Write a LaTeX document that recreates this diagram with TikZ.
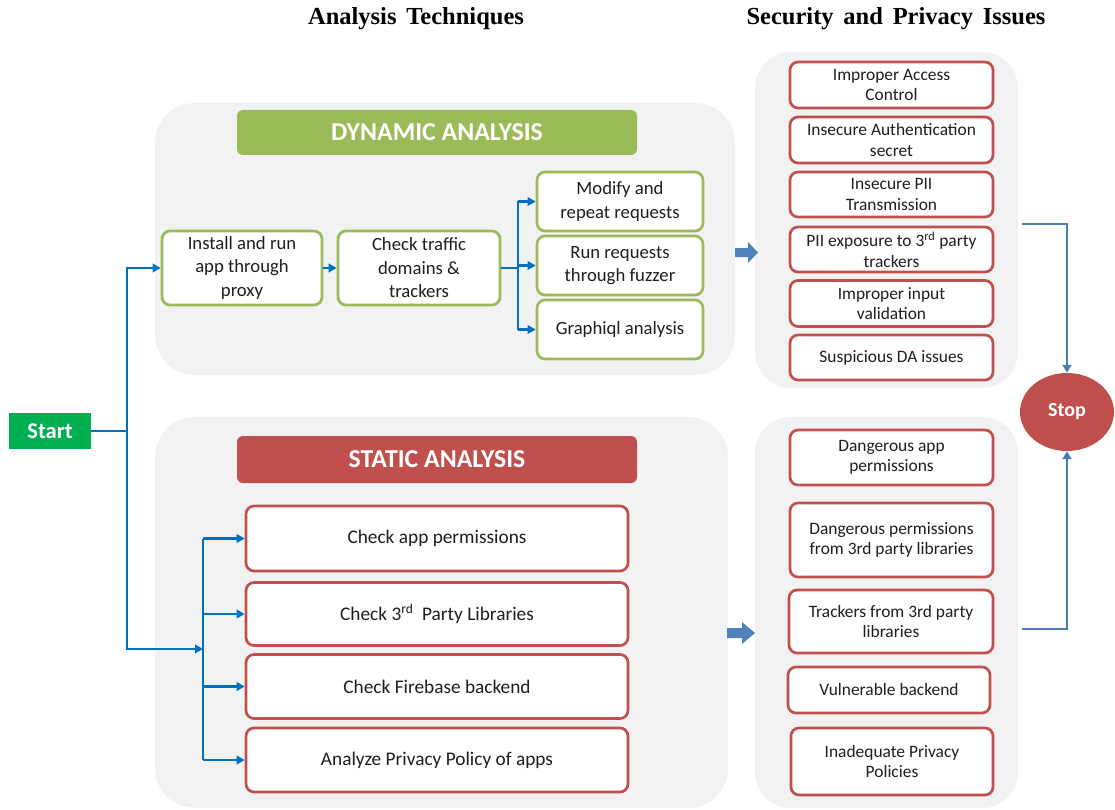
\documentclass[tikz,border=0pt]{standalone}
\usepackage{fontspec}
\setmainfont{Carlito}
\newfontfamily\titlefont[WordSpace=1.6]{Liberation Serif}
\usetikzlibrary{arrows.meta,shapes.geometric,calc}
\definecolor{panelgray}{HTML}{F2F2F2}
\definecolor{dagreen}{HTML}{9BBB59}
\definecolor{sared}{HTML}{C0504D}
\definecolor{startgreen}{HTML}{00B050}
\definecolor{connblue}{HTML}{0070C0}
\definecolor{stopblue}{HTML}{4A7EBB}
\definecolor{bigblue}{HTML}{4F81BD}
\definecolor{txt}{HTML}{1E1E1E}
\begin{document}
\begin{tikzpicture}[x=1pt,y=-1pt,
  panel/.style={fill=panelgray, draw=none, rounded corners=40pt, inner sep=0pt},
  header/.style={rounded corners=6pt, inner sep=0pt, text=white, font=\fontsize{25.8}{30}\selectfont\bfseries},
  dabox/.style={draw=dagreen, line width=2.7pt, fill=white, rounded corners=8pt, align=center, inner sep=0pt, text=txt, font=\fontsize{18.7}{23.5}\selectfont},
  sabox/.style={draw=sared, line width=2.7pt, fill=white, rounded corners=8pt, align=center, inner sep=0pt, text=txt, font=\fontsize{19.3}{23}\selectfont},
  issue/.style={draw=sared, line width=2.7pt, fill=white, rounded corners=8pt, align=center, inner sep=0pt, text=txt, font=\fontsize{17.4}{20.5}\selectfont},
  line/.style={draw=connblue, line width=2.5pt},
  arr/.style={line, -{Triangle[length=8pt,width=8.5pt]}},
  arrb/.style={draw=stopblue, line width=2.6pt, -{Triangle[length=8pt,width=9pt]}},
  title/.style={font=\titlefont\fontsize{24.5}{28}\selectfont\bfseries, text=black}
]
\useasboundingbox (0,0) rectangle (1115,810);

% titles
\node[title] (t1) at (416,19) {Analysis Techniques};
\node[title] (t2) at (896,19) {Security and Privacy Issues};

% panels
\node[panel, minimum width=580pt, minimum height=272pt] (dynpanel) at (445,239) {};
\node[panel, minimum width=573pt, minimum height=391pt] (statpanel) at (441.5,612.5) {};
\node[panel, rounded corners=36pt, minimum width=263pt, minimum height=336pt] (issuetop) at (886.5,220) {};
\node[panel, rounded corners=36pt, minimum width=263pt, minimum height=391pt] (issuebot) at (886.5,612.5) {};

% headers
\node[header, fill=dagreen, minimum width=400pt, minimum height=45pt] (dynhead) at (437,132.5) {DYNAMIC ANALYSIS};
\node[header, fill=sared, minimum width=400pt, minimum height=47pt] (stathead) at (437,459.5) {STATIC ANALYSIS};

% dynamic boxes
\node[dabox, minimum width=160pt, minimum height=74pt] (install) at (242,268) {Install and run\\app through\\proxy};
\node[dabox, minimum width=162pt, minimum height=74pt] (traffic) at (419,268) {Check traffic\\domains \&\\trackers};
\node[dabox, minimum width=166pt, minimum height=59pt] (modify) at (620,201.5) {Modify and\\repeat requests};
\node[dabox, minimum width=166pt, minimum height=59pt] (fuzz) at (620,265.5) {Run requests\\through fuzzer};
\node[dabox, minimum width=166pt, minimum height=59pt] (graphiql) at (620,329.5) {Graphiql analysis};

% static boxes
\node[sabox, minimum width=382pt, minimum height=65pt] (s1) at (437,538.5) {Check app permissions};
\node[sabox, minimum width=382pt, minimum height=63pt] (s2) at (437,614) {Check 3\textsuperscript{rd}\ \ Party Libraries};
\node[sabox, minimum width=382pt, minimum height=64pt] (s3) at (437,686.5) {Check Firebase backend};
\node[sabox, minimum width=382pt, minimum height=64pt] (s4) at (437,760) {Analyze Privacy Policy of apps};

% issue boxes (dynamic)
\node[issue, minimum width=203pt, minimum height=46pt] (i1) at (891.5,85) {Improper Access\\Control};
\node[issue, minimum width=203pt, minimum height=46pt] (i2) at (891.5,140) {Insecure Authentication\\secret};
\node[issue, minimum width=203pt, minimum height=45pt] (i3) at (891.5,194.5) {Insecure PII\\Transmission};
\node[issue, minimum width=203pt, minimum height=45pt] (i4) at (891.5,249.5) {PII exposure to 3\textsuperscript{rd} party\\trackers};
\node[issue, minimum width=203pt, minimum height=46pt] (i5) at (891.5,303.5) {Improper input\\validation};
\node[issue, minimum width=203pt, minimum height=45pt] (i6) at (891.5,357.5) {Suspicious DA issues};

% issue boxes (static)
\node[issue, minimum width=203pt, minimum height=55pt] (b1) at (891.5,457.5) {Dangerous app\\permissions};
\node[issue, minimum width=203pt, minimum height=74pt] (b2) at (891.5,540) {Dangerous permissions\\from 3rd party libraries};
\node[issue, minimum width=204pt, minimum height=63pt] (b3) at (891,621.5) {Trackers from 3rd party\\libraries};
\node[issue, minimum width=202pt, minimum height=46pt] (b4) at (889,690) {Vulnerable backend};
\node[issue, minimum width=202pt, minimum height=67pt] (b5) at (892,761.5) {Inadequate Privacy\\Policies};

% start / stop
\node[fill=startgreen, minimum width=82pt, minimum height=36pt, inner sep=0pt, text=white, font=\fontsize{22.5}{25}\selectfont\bfseries] (start) at (50,431) {Start};
\node[ellipse, fill=sared, minimum width=94pt, minimum height=78pt, inner sep=0pt, text=white, font=\fontsize{20}{24}\selectfont\bfseries] (stop) at (1067,412) {Stop};

% left connectors
\coordinate (spine) at (127,431);
\coordinate (sj) at (203,649);
\draw[line] (start.east) -- (spine);
\draw[arr] (spine) |- (install.west);
\draw[arr] (spine) |- (sj);
\draw[line] (sj |- s1.west) -- (sj |- s4.west);
\foreach \s in {s1,s2,s3,s4}{\draw[arr] (sj |- \s.west) -- (\s.west);}
\draw[arr] (install.east) -- (traffic.west);
\coordinate (br) at (518,268);
\draw[line] (traffic.east) -- (br);
\draw[line] (br |- modify.west) -- (br |- graphiql.west);
\foreach \s in {modify,fuzz,graphiql}{\draw[arr] (br |- \s.west) -- (\s.west);}

% big block arrows
\fill[bigblue] (735,248) -- (748,248) -- (748,242) -- (758,252.5) -- (748,263) -- (748,257) -- (735,257) -- cycle;
\fill[bigblue] (727,628) -- (742,628) -- (742,622) -- (755,633) -- (742,644) -- (742,638) -- (727,638) -- cycle;

% connectors to stop
\coordinate (ct) at (1022,224);
\coordinate (cb) at (1022,629);
\draw[arrb] (ct) -| (stop.north);
\draw[arrb] (cb) -| (stop.south);
\end{tikzpicture}
\end{document}
